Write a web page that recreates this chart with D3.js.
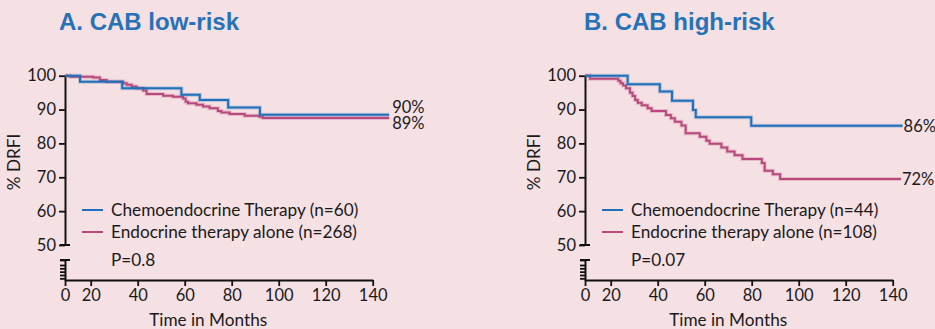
<!DOCTYPE html>
<html lang="en">
<head>
    <meta charset="UTF-8">
    <title>CAB low-risk / high-risk DRFI</title>
    <script src="https://d3js.org/d3.v7.min.js"></script>
    <style>
        body { margin: 0; background: #f5e0e3; }
        svg { display: block; }
        .tick text { font-family: Lato, sans-serif; font-size: 16.5px; fill: #1a1a1a; }
        .lbl { font-family: Lato, sans-serif; font-size: 17.2px; fill: #1a1a1a; }
        .end { font-family: Lato, sans-serif; font-size: 16.5px; fill: #1a1a1a; }
        .title { font-family: "Liberation Sans", Arial, sans-serif; font-weight: bold; font-size: 24px; fill: #2672b8; }
    </style>
</head>
<body>
<svg width="935" height="329"></svg>
<script>
// time in months, % DRFI (step after)
const lowChemo = [[0,100],[11.7,98.2],[33.4,96.3],[58.6,94.4],[66.4,92.8],[78.5,90.6],[92,88.5],[147,88.5]];
const lowEndo = [[0,100],[3.9,99.7],[21.1,99.5],[23.9,98.7],[26.8,98.2],[33.8,97.8],[35.3,97.3],[37.4,96.8],
    [39.5,96.3],[42.3,95.6],[43.8,94.6],[50.8,94.1],[55,93.8],[59.3,93.3],[60.4,92.3],[61.4,91.9],[65,91.4],
    [67.8,90.9],[70.6,90.4],[74.1,89.6],[75.6,89.1],[79.1,88.7],[85.5,88.2],[91.8,87.9],[93.2,87.5],[147,87.5]];
const highChemo = [[0,100],[27.2,97.5],[40.9,95.3],[46.1,92.6],[55,89.9],[56.2,87.7],[79.8,85.2],[144.2,85.2]];
const highEndo = [[0,100],[3.9,99.1],[23.2,98.5],[24.2,97.8],[25.3,97.1],[26.5,96.3],[28.2,95.0],[29.3,94.0],
    [30.4,92.8],[31.5,92.0],[33.2,91.3],[35.7,90.4],[37.4,89.6],[43.5,88.4],[45.6,87.4],[47.3,86.4],[50.1,85.3],
    [51.9,83.0],[57.9,82.0],[60.7,80.8],[62.1,79.9],[67.1,78.8],[69.6,77.6],[72.7,76.5],[76.1,75.4],[84.3,74.2],
    [85.5,71.9],[89,70.9],[92.1,69.5],[143.5,69.5]];

const xTicks = [0, 20, 40, 60, 80, 100, 120, 140];
const yTicks = [50, 60, 70, 80, 90, 100];

const panels = [
    { title: "A. CAB low-risk", chemo: lowChemo, endo: lowEndo,
      legend: ["Chemoendocrine Therapy (n=60)", "Endocrine therapy alone (n=268)"], p: "P=0.8", ends: ["90%", "89%"] },
    { title: "B. CAB high-risk", chemo: highChemo, endo: highEndo,
      legend: ["Chemoendocrine Therapy (n=44)", "Endocrine therapy alone (n=108)"], p: "P=0.07", ends: ["86%", "72%"] }
];

const blue = "#1f6fbb", pink = "#b8497c";
const svg = d3.select("svg");
svg.append("rect").attr("width", 935).attr("height", 329).attr("fill", "#f5e0e3");

// x axis has a compressed 0-20 segment
const x = d3.scaleLinear().domain([0, 20, 140]).range([0, 25.7, 307.7]);
const y = d3.scaleLinear().domain([50, 100]).range([245, 75.7]);
const yLow = d3.scaleLinear().domain([0, 6]).range([280, 260]);

panels.forEach((p, i) => {
    const g = svg.append("g").attr("transform", `translate(${65 + i * 520},0)`);

    svg.append("text").attr("class", "title")
        .attr("x", 59 + i * 525).attr("y", 30).text(p.title);

    // axes
    const xa = g.append("g").attr("transform", "translate(0,280)")
        .call(d3.axisBottom(x).tickValues(xTicks).tickSize(6).tickSizeOuter(0).tickPadding(3));
    const ya = g.append("g")
        .call(d3.axisLeft(y).tickValues(yTicks).tickSize(6).tickSizeOuter(0).tickPadding(3));
    const yl = g.append("g")
        .call(d3.axisLeft(yLow).tickValues([0.5, 1.5, 2.5, 3.5, 4.5, 6]).tickSize(5).tickSizeOuter(0).tickFormat(""));
    [xa, ya, yl].forEach(a => {
        a.selectAll("path,line").attr("stroke", "#111").attr("stroke-width", 1.8);
        a.select(".domain").attr("stroke-width", 2);
    });
    // caps at break
    g.append("line").attr("x1", -5).attr("x2", 5).attr("y1", y(50)).attr("y2", y(50))
        .attr("stroke", "#111").attr("stroke-width", 2);
    g.append("line").attr("x1", -5).attr("x2", 5).attr("y1", yLow(6)).attr("y2", yLow(6))
        .attr("stroke", "#111").attr("stroke-width", 2);

    g.append("text").attr("class", "lbl").attr("text-anchor", "middle")
        .attr("x", x(70)).attr("y", 326).text("Time in Months");
    g.append("text").attr("class", "lbl").attr("text-anchor", "middle")
        .attr("transform", `translate(-45,162) rotate(-90)`).text("% DRFI");

    const line = d3.line().x(d => x(d[0])).y(d => y(d[1])).curve(d3.curveStepAfter);
    [[p.endo, pink], [p.chemo, blue]].forEach(([data, c]) => {
        g.append("path").datum(data).attr("d", line).attr("fill", "none")
            .attr("stroke", c).attr("stroke-opacity", 0.25).attr("stroke-width", 4);
        g.append("path").datum(data).attr("d", line).attr("fill", "none")
            .attr("stroke", c).attr("stroke-width", 2);
    });

    // end labels
    const lastC = p.chemo[p.chemo.length - 1], lastE = p.endo[p.endo.length - 1];
    if (i === 0) {
        g.append("text").attr("class", "end").attr("x", x(lastC[0]) + 3).attr("y", 113).text(p.ends[0]);
        g.append("text").attr("class", "end").attr("x", x(lastC[0]) + 3).attr("y", 128.5).text(p.ends[1]);
    } else {
        g.append("text").attr("class", "end").attr("x", x(lastC[0]) + 1).attr("y", y(lastC[1]) + 6).text(p.ends[0]);
        g.append("text").attr("class", "end").attr("x", x(lastE[0]) + 1).attr("y", y(lastE[1]) + 6).text(p.ends[1]);
    }

    // legend
    [blue, pink].forEach((c, k) => {
        const ly = 210 + k * 22;
        g.append("line").attr("x1", 17).attr("x2", 38).attr("y1", ly).attr("y2", ly)
            .attr("stroke", c).attr("stroke-width", 2);
        g.append("text").attr("class", "lbl").attr("x", 46).attr("y", ly + 6).text(p.legend[k]);
    });
    g.append("text").attr("class", "lbl").attr("x", 46).attr("y", 266).text(p.p);
});
</script>
</body>
</html>
